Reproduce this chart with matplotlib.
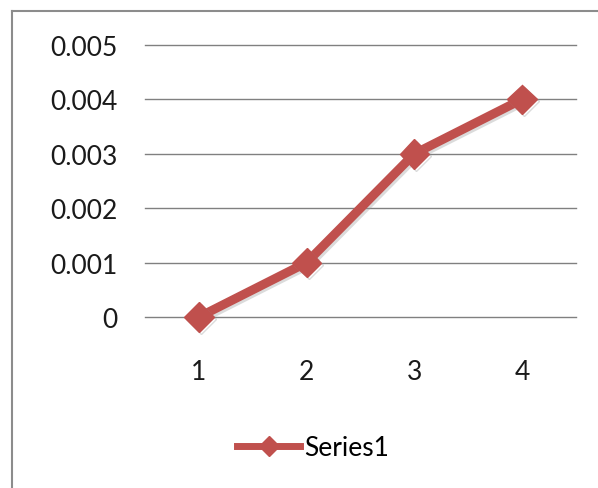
import matplotlib.pyplot as plt
import matplotlib.patheffects as pe
from matplotlib.lines import Line2D

# Data
categorias = [1, 2, 3, 4]
series1 = [0.0, 0.001, 0.003, 0.004]
y_ticks = [0, 0.001, 0.002, 0.003, 0.004, 0.005]
y_labels = ["0", "0.001", "0.002", "0.003", "0.004", "0.005"]

rojo = "#C0504D"
plt.rcParams["font.family"] = ["Lato", "DejaVu Sans"]

fig = plt.figure(figsize=(5.98, 4.89), dpi=100)
ax = fig.add_axes([0.2425, 0.3497, 0.7205, 0.5563])

for y in y_ticks:
    ax.axhline(y, color="#808080", lw=1.0, zorder=1, clip_on=False)

sombra = [pe.SimpleLineShadow(offset=(1.5, -1.5), shadow_color="#999999", alpha=0.35), pe.Normal()]
ax.plot(categorias, series1, color=rojo, lw=6.5, marker="D", markersize=15,
        solid_joinstyle="miter", zorder=3, clip_on=False, path_effects=sombra)

ax.set_xlim(0.5, 4.5)
ax.set_ylim(0, 0.005)
ax.set_xticks(categorias)
ax.set_xticklabels([str(c) for c in categorias])
ax.set_yticks(y_ticks)
ax.set_yticklabels(y_labels)
ax.tick_params(length=0, labelsize=19, colors="#1a1a1a")
ax.tick_params(axis="y", pad=20)
ax.tick_params(axis="x", pad=30)
for s in ax.spines.values():
    s.set_visible(False)
ax.set_facecolor("none")

# Borde del área del gráfico
fig.add_artist(Line2D([12 / 598, 1.0], [1 - 12 / 489] * 2, color="#8c8c8c", lw=1.5))
fig.add_artist(Line2D([12 / 598] * 2, [0.0, 1 - 12 / 489], color="#8c8c8c", lw=1.5))

# Leyenda
leyenda = fig.legend(
    [Line2D([], [], color=rojo, lw=5, marker="D", markersize=10)],
    ["Series1"],
    loc="center",
    bbox_to_anchor=(313 / 598, 1 - 449 / 489),
    frameon=False,
    fontsize=19,
    handlelength=2.4,
    handletextpad=0.15,
)

fig.savefig("out.png", dpi=100)
